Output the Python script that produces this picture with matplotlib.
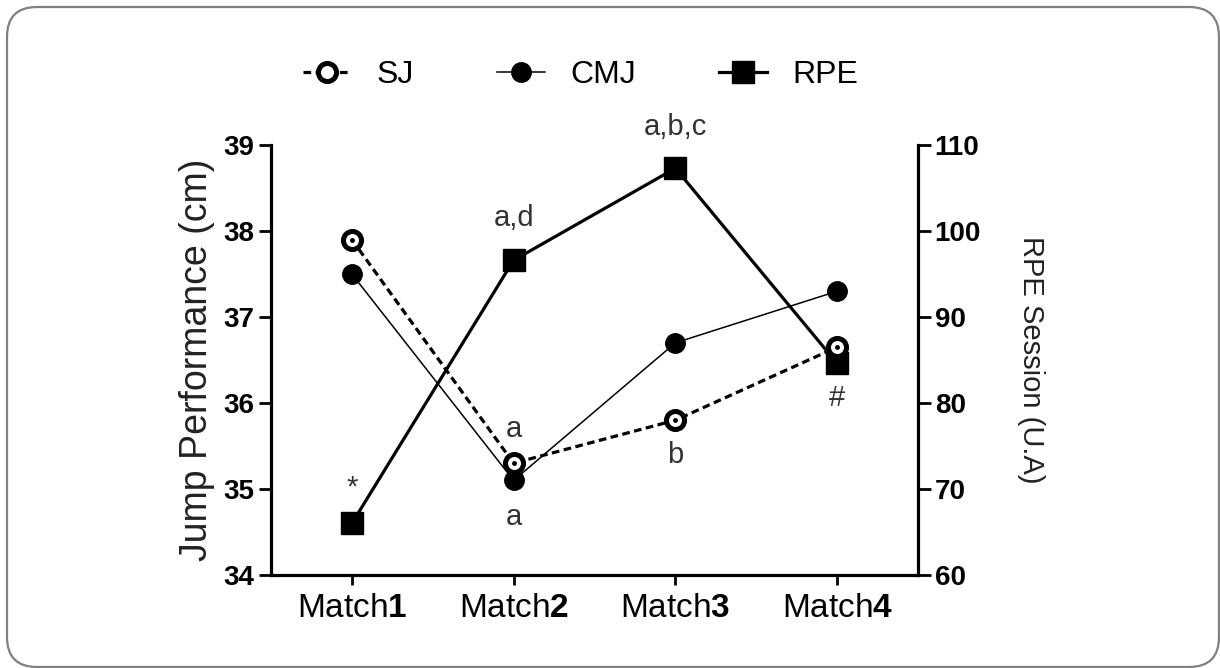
import numpy as np
import matplotlib
matplotlib.use("Agg")
import matplotlib.pyplot as plt
import matplotlib.patches as mpatches

plt.rcParams['font.family'] = ['Liberation Sans', 'DejaVu Sans']
plt.rcParams['mathtext.fontset'] = 'custom'
plt.rcParams['mathtext.rm'] = 'Liberation Sans'
plt.rcParams['mathtext.bf'] = 'Liberation Sans:bold'

# data
matches = [1, 2, 3, 4]
match_labels = [r'Match$\mathbf{1}$', r'Match$\mathbf{2}$', r'Match$\mathbf{3}$', r'Match$\mathbf{4}$']
sj = [37.9, 35.3, 35.8, 36.65]
cmj = [37.5, 35.1, 36.7, 37.3]
rpe = [66.0, 96.6, 107.3, 84.6]

# significance marks: (text, match index, offset in px)
marks_rpe = [('*', 0, 36), ('a,d', 1, 42), ('a,b,c', 2, 41), ('#', 3, -35)]
marks_sj = [('a', 1, 34), ('b', 2, -35)]
marks_cmj = [('a', 1, -37)]

fig = plt.figure(figsize=(12.2, 6.68), dpi=100)
ax = fig.add_axes([0.2221, 0.1392, 0.5304, 0.6437])
ax2 = ax.twinx()
ax.set_zorder(ax2.get_zorder() + 1)
ax.patch.set_visible(False)

l_rpe, = ax2.plot(matches, rpe, color='black', lw=2.3, marker='s', ms=15.5,
                  label='RPE', clip_on=False)
l_cmj, = ax.plot(matches, cmj, color='black', lw=1.1, marker='o', ms=14,
                 label='CMJ', clip_on=False)
l_sj, = ax.plot(matches, sj, color='black', lw=2.3, dashes=(2.4, 1.4), marker='o',
                ms=13, mfc='white', mec='black', mew=3.6, label='SJ', clip_on=False)
ax.plot(matches, sj, ls='none', marker='o', ms=2.5, color='black', clip_on=False)

ax.set_xlim(0.5, 4.5)
ax.set_ylim(34, 39)
ax2.set_ylim(60, 110)
ax.set_yticks([34, 35, 36, 37, 38, 39])
ax2.set_yticks([60, 70, 80, 90, 100, 110])
ax.set_xticks(matches)
ax.set_xticklabels(match_labels, fontsize=24)

for a in (ax, ax2):
    a.spines['top'].set_visible(False)
    for s in a.spines.values():
        s.set_linewidth(2.3)
ax.spines['right'].set_visible(False)
ax2.spines['left'].set_visible(False)
ax2.spines['bottom'].set_visible(False)

ax.tick_params(axis='y', length=9, width=2, pad=3, labelsize=20)
ax.tick_params(axis='x', length=7, width=2, pad=6)
ax2.tick_params(axis='y', length=9, width=2, pad=3, labelsize=20)
for lab in ax.get_yticklabels() + ax2.get_yticklabels():
    lab.set_fontweight('bold')

ax.set_ylabel('Jump Performance (cm)', fontsize=27, color='#222222', labelpad=6)
ax2.set_ylabel('RPE Session (U.A)', fontsize=21, color='#222222', rotation=-90,
               labelpad=46)

for txt, i, dy in marks_rpe:
    ax2.annotate(txt, (matches[i], rpe[i]), xytext=(0, dy), textcoords='offset pixels',
                 ha='center', va='center', fontsize=21, color='#333333', annotation_clip=False)
for txt, i, dy in marks_sj:
    ax.annotate(txt, (matches[i], sj[i]), xytext=(0, dy), textcoords='offset pixels',
                ha='center', va='center', fontsize=21, color='#333333', annotation_clip=False)
for txt, i, dy in marks_cmj:
    ax.annotate(txt, (matches[i], cmj[i]), xytext=(0, dy), textcoords='offset pixels',
                ha='center', va='center', fontsize=21, color='#333333', annotation_clip=False)

fig.legend([l_sj, l_cmj, l_rpe], ['SJ', 'CMJ', 'RPE'], loc='center',
           bbox_to_anchor=(0.476, 0.888), ncol=3, frameon=False, fontsize=23,
           handlelength=1.5, handletextpad=0.8, columnspacing=2.6)

border = mpatches.FancyBboxPatch((7, 1), 1212, 660, boxstyle='round,pad=0,rounding_size=30',
                                 transform=None, facecolor='none', edgecolor='#808080', lw=1.6)
fig.patches.append(border)

fig.savefig('out.png', dpi=100)
